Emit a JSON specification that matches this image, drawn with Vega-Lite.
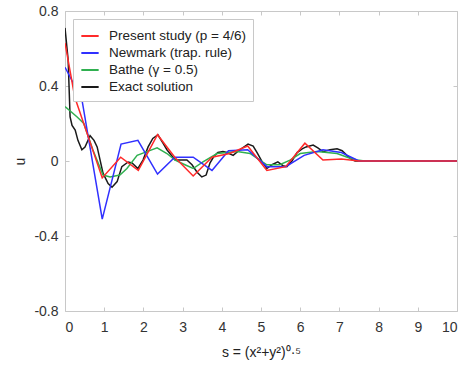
{
  "$schema": "https://vega.github.io/schema/vega-lite/v6.json",
  "width": 392,
  "height": 300,
  "autosize": {"type": "none"},
  "padding": {"left": 65, "top": 11, "right": 11, "bottom": 55},
  "background": "white",
  "config": {
    "font": "Liberation Sans",
    "view": {"stroke": "#c8c8c8", "strokeWidth": 1},
    "axis": {
      "domain": false,
      "grid": false,
      "tickColor": "#c8c8c8",
      "tickSize": -4,
      "labelFontSize": 14,
      "labelColor": "#333333",
      "labelFont": "Liberation Sans",
      "titleFont": "Liberation Sans",
      "titleFontSize": 14,
      "titleFontWeight": "normal",
      "titleColor": "#222222"
    },
    "legend": {
      "orient": "none",
      "legendX": 8,
      "legendY": 8,
      "padding": 7,
      "strokeColor": "#c8c8c8",
      "fillColor": "white",
      "symbolType": "stroke",
      "symbolSize": 300,
      "symbolStrokeWidth": 2,
      "labelFontSize": 13.5,
      "labelColor": "#222222",
      "labelFont": "Liberation Sans",
      "labelOffset": 9,
      "rowPadding": 0
    }
  },
  "data": {
    "values": [
      {"series": "Exact solution", "s": 0, "u": 0.71},
      {"series": "Exact solution", "s": 0.08, "u": 0.54},
      {"series": "Exact solution", "s": 0.13, "u": 0.235},
      {"series": "Exact solution", "s": 0.18, "u": 0.19},
      {"series": "Exact solution", "s": 0.26, "u": 0.165},
      {"series": "Exact solution", "s": 0.33, "u": 0.11},
      {"series": "Exact solution", "s": 0.43, "u": 0.06},
      {"series": "Exact solution", "s": 0.51, "u": 0.075},
      {"series": "Exact solution", "s": 0.64, "u": 0.135},
      {"series": "Exact solution", "s": 0.74, "u": 0.11},
      {"series": "Exact solution", "s": 0.82, "u": 0.075},
      {"series": "Exact solution", "s": 0.97, "u": -0.065},
      {"series": "Exact solution", "s": 1.1, "u": -0.12},
      {"series": "Exact solution", "s": 1.2, "u": -0.14},
      {"series": "Exact solution", "s": 1.33, "u": -0.11},
      {"series": "Exact solution", "s": 1.45, "u": -0.03},
      {"series": "Exact solution", "s": 1.61, "u": -0.005},
      {"series": "Exact solution", "s": 1.71, "u": -0.01},
      {"series": "Exact solution", "s": 1.86, "u": -0.04},
      {"series": "Exact solution", "s": 1.99, "u": 0.005},
      {"series": "Exact solution", "s": 2.12, "u": 0.075},
      {"series": "Exact solution", "s": 2.24, "u": 0.12},
      {"series": "Exact solution", "s": 2.37, "u": 0.14},
      {"series": "Exact solution", "s": 2.5, "u": 0.095},
      {"series": "Exact solution", "s": 2.6, "u": 0.06},
      {"series": "Exact solution", "s": 2.81, "u": 0.005},
      {"series": "Exact solution", "s": 2.96, "u": 0.005},
      {"series": "Exact solution", "s": 3.11, "u": 0.005},
      {"series": "Exact solution", "s": 3.24, "u": -0.02},
      {"series": "Exact solution", "s": 3.37, "u": -0.06},
      {"series": "Exact solution", "s": 3.49, "u": -0.085},
      {"series": "Exact solution", "s": 3.6, "u": -0.075},
      {"series": "Exact solution", "s": 3.7, "u": -0.01},
      {"series": "Exact solution", "s": 3.8, "u": 0.025},
      {"series": "Exact solution", "s": 3.9, "u": 0.045},
      {"series": "Exact solution", "s": 4.03, "u": 0.05},
      {"series": "Exact solution", "s": 4.13, "u": 0.045},
      {"series": "Exact solution", "s": 4.29, "u": 0.03},
      {"series": "Exact solution", "s": 4.46, "u": 0.06},
      {"series": "Exact solution", "s": 4.67, "u": 0.09},
      {"series": "Exact solution", "s": 4.8, "u": 0.08},
      {"series": "Exact solution", "s": 4.9, "u": 0.045},
      {"series": "Exact solution", "s": 5.03, "u": -0.005},
      {"series": "Exact solution", "s": 5.15, "u": -0.04},
      {"series": "Exact solution", "s": 5.28, "u": -0.02},
      {"series": "Exact solution", "s": 5.43, "u": -0.005},
      {"series": "Exact solution", "s": 5.56, "u": -0.025},
      {"series": "Exact solution", "s": 5.66, "u": -0.03},
      {"series": "Exact solution", "s": 5.79, "u": 0},
      {"series": "Exact solution", "s": 5.92, "u": 0.045},
      {"series": "Exact solution", "s": 6.05, "u": 0.065},
      {"series": "Exact solution", "s": 6.15, "u": 0.075},
      {"series": "Exact solution", "s": 6.33, "u": 0.085},
      {"series": "Exact solution", "s": 6.45, "u": 0.07},
      {"series": "Exact solution", "s": 6.58, "u": 0.05},
      {"series": "Exact solution", "s": 6.76, "u": 0.06},
      {"series": "Exact solution", "s": 6.94, "u": 0.065},
      {"series": "Exact solution", "s": 7.07, "u": 0.055},
      {"series": "Exact solution", "s": 7.19, "u": 0.03},
      {"series": "Exact solution", "s": 7.3, "u": 0.01},
      {"series": "Exact solution", "s": 7.4, "u": 0},
      {"series": "Exact solution", "s": 10, "u": 0},

      {"series": "Bathe (γ = 0.5)", "s": 0, "u": 0.29},
      {"series": "Bathe (γ = 0.5)", "s": 0.31, "u": 0.235},
      {"series": "Bathe (γ = 0.5)", "s": 0.48, "u": 0.2},
      {"series": "Bathe (γ = 0.5)", "s": 0.71, "u": 0.06},
      {"series": "Bathe (γ = 0.5)", "s": 0.97, "u": -0.075},
      {"series": "Bathe (γ = 0.5)", "s": 1.15, "u": -0.085},
      {"series": "Bathe (γ = 0.5)", "s": 1.4, "u": -0.075},
      {"series": "Bathe (γ = 0.5)", "s": 1.58, "u": -0.04},
      {"series": "Bathe (γ = 0.5)", "s": 1.84, "u": 0.03},
      {"series": "Bathe (γ = 0.5)", "s": 2.09, "u": 0.05},
      {"series": "Bathe (γ = 0.5)", "s": 2.35, "u": 0.07},
      {"series": "Bathe (γ = 0.5)", "s": 2.6, "u": 0.04},
      {"series": "Bathe (γ = 0.5)", "s": 2.81, "u": 0.005},
      {"series": "Bathe (γ = 0.5)", "s": 3.06, "u": -0.02},
      {"series": "Bathe (γ = 0.5)", "s": 3.27, "u": -0.04},
      {"series": "Bathe (γ = 0.5)", "s": 3.52, "u": -0.005},
      {"series": "Bathe (γ = 0.5)", "s": 3.88, "u": 0.04},
      {"series": "Bathe (γ = 0.5)", "s": 4.39, "u": 0.05},
      {"series": "Bathe (γ = 0.5)", "s": 4.72, "u": 0.04},
      {"series": "Bathe (γ = 0.5)", "s": 4.97, "u": 0.005},
      {"series": "Bathe (γ = 0.5)", "s": 5.15, "u": -0.02},
      {"series": "Bathe (γ = 0.5)", "s": 5.48, "u": -0.02},
      {"series": "Bathe (γ = 0.5)", "s": 5.74, "u": 0.005},
      {"series": "Bathe (γ = 0.5)", "s": 6.0, "u": 0.04},
      {"series": "Bathe (γ = 0.5)", "s": 6.43, "u": 0.05},
      {"series": "Bathe (γ = 0.5)", "s": 6.94, "u": 0.04},
      {"series": "Bathe (γ = 0.5)", "s": 7.27, "u": 0.015},
      {"series": "Bathe (γ = 0.5)", "s": 7.45, "u": 0.005},
      {"series": "Bathe (γ = 0.5)", "s": 7.65, "u": 0},
      {"series": "Bathe (γ = 0.5)", "s": 10, "u": 0},

      {"series": "Newmark (trap. rule)", "s": 0, "u": 0.5},
      {"series": "Newmark (trap. rule)", "s": 0.2, "u": 0.42},
      {"series": "Newmark (trap. rule)", "s": 0.43, "u": 0.33},
      {"series": "Newmark (trap. rule)", "s": 0.95, "u": -0.31},
      {"series": "Newmark (trap. rule)", "s": 1.43, "u": 0.09},
      {"series": "Newmark (trap. rule)", "s": 1.86, "u": 0.11},
      {"series": "Newmark (trap. rule)", "s": 2.36, "u": -0.07},
      {"series": "Newmark (trap. rule)", "s": 2.8, "u": 0.02},
      {"series": "Newmark (trap. rule)", "s": 3.27, "u": 0.02},
      {"series": "Newmark (trap. rule)", "s": 3.75, "u": -0.05},
      {"series": "Newmark (trap. rule)", "s": 4.17, "u": 0.055},
      {"series": "Newmark (trap. rule)", "s": 4.66, "u": 0.06},
      {"series": "Newmark (trap. rule)", "s": 5.15, "u": -0.03},
      {"series": "Newmark (trap. rule)", "s": 5.63, "u": -0.03},
      {"series": "Newmark (trap. rule)", "s": 6.1, "u": 0.03},
      {"series": "Newmark (trap. rule)", "s": 6.58, "u": 0.06},
      {"series": "Newmark (trap. rule)", "s": 7.05, "u": 0.045},
      {"series": "Newmark (trap. rule)", "s": 7.5, "u": 0},
      {"series": "Newmark (trap. rule)", "s": 10, "u": 0},

      {"series": "Present study (p = 4/6)", "s": 0, "u": 0.63},
      {"series": "Present study (p = 4/6)", "s": 0.25, "u": 0.34},
      {"series": "Present study (p = 4/6)", "s": 0.95, "u": -0.09},
      {"series": "Present study (p = 4/6)", "s": 1.42, "u": 0.02},
      {"series": "Present study (p = 4/6)", "s": 1.87, "u": -0.05},
      {"series": "Present study (p = 4/6)", "s": 2.36, "u": 0.14},
      {"series": "Present study (p = 4/6)", "s": 2.8, "u": 0.02},
      {"series": "Present study (p = 4/6)", "s": 3.27, "u": -0.08},
      {"series": "Present study (p = 4/6)", "s": 3.75, "u": 0.02},
      {"series": "Present study (p = 4/6)", "s": 4.2, "u": 0.04},
      {"series": "Present study (p = 4/6)", "s": 4.66, "u": 0.08},
      {"series": "Present study (p = 4/6)", "s": 5.15, "u": -0.05},
      {"series": "Present study (p = 4/6)", "s": 5.63, "u": -0.03},
      {"series": "Present study (p = 4/6)", "s": 6.12, "u": 0.095},
      {"series": "Present study (p = 4/6)", "s": 6.58, "u": 0.005},
      {"series": "Present study (p = 4/6)", "s": 7.05, "u": 0.01},
      {"series": "Present study (p = 4/6)", "s": 7.5, "u": 0},
      {"series": "Present study (p = 4/6)", "s": 10, "u": 0}
    ]
  },
  "layer": [
    {
      "mark": {"type": "line", "strokeWidth": 1.5, "clip": true},
      "encoding": {
        "x": {
          "field": "s",
          "type": "quantitative",
          "scale": {"domain": [0, 10], "nice": false, "zero": false},
          "axis": {
            "orient": "bottom",
            "values": [0, 1, 2, 3, 4, 5, 6, 7, 8, 9, 10],
            "labelPadding": 13,
            "title": "s = (x²+y²)⁰·⁵",
            "titlePadding": 11
          }
        },
        "y": {
          "field": "u",
          "type": "quantitative",
          "scale": {"domain": [-0.8, 0.8], "nice": false, "zero": false},
          "axis": {
            "orient": "left",
            "values": [-0.8, -0.4, 0, 0.4, 0.8],
            "labelExpr": "replace(format(datum.value, '~g'), '−', '-')",
            "labelPadding": 11,
            "title": "u",
            "titleX": -45,
            "titleY": 150,
            "titleAlign": "center",
            "titleBaseline": "middle"
          }
        },
        "color": {
          "field": "series",
          "type": "nominal",
          "scale": {
            "domain": ["Present study (p = 4/6)", "Newmark (trap. rule)", "Bathe (γ = 0.5)", "Exact solution"],
            "range": ["#ff2a2a", "#3030ff", "#30b050", "#1a1a1a"]
          },
          "legend": {"title": null}
        }
      }
    },
    {
      "mark": {"type": "point", "opacity": 0},
      "encoding": {
        "x": {
          "field": "s",
          "type": "quantitative",
          "axis": {"orient": "top", "values": [0, 1, 2, 3, 4, 5, 6, 7, 8, 9, 10], "labels": false, "title": null}
        },
        "y": {
          "field": "u",
          "type": "quantitative",
          "axis": {"orient": "right", "values": [-0.8, -0.4, 0, 0.4, 0.8], "labels": false, "title": null}
        }
      }
    }
  ],
  "resolve": {"axis": {"x": "independent", "y": "independent"}}
}
